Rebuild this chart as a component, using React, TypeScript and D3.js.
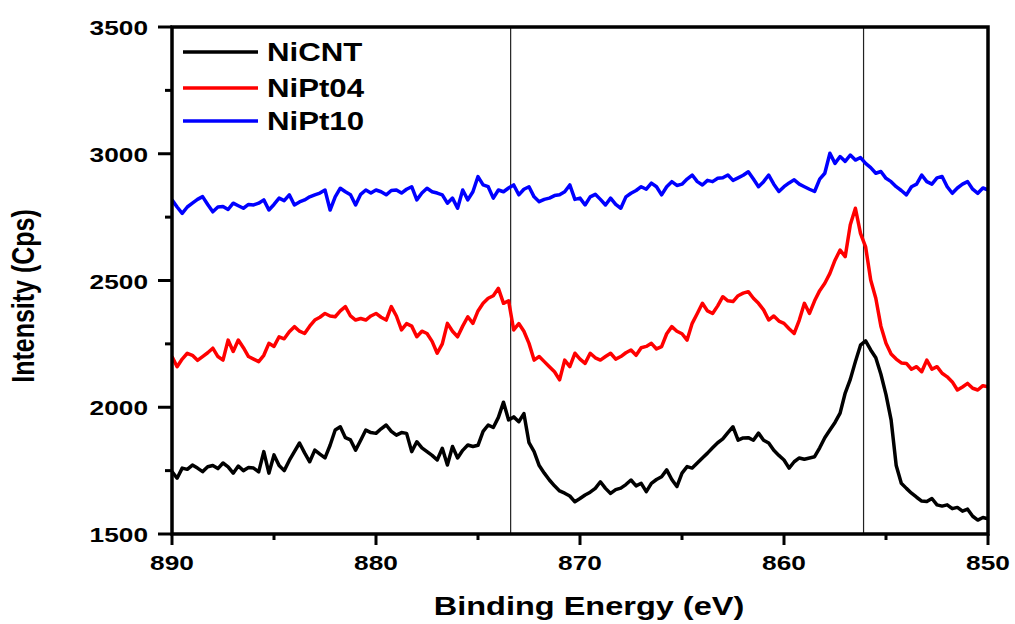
import React from "react";
import * as d3 from "d3";

// Binding energy grid (eV), 0.25 eV steps from 890 down to 850
const energies: number[] = d3.range(161).map((i) => 890 - i * 0.25);

const niCNT: number[] = [
  1746, 1720, 1760, 1755,
  1772, 1760, 1746, 1765,
  1770, 1758, 1780, 1765,
  1740, 1768, 1750, 1762,
  1760, 1745, 1825, 1740,
  1812, 1770, 1750, 1790,
  1825, 1859, 1820, 1785,
  1831, 1815, 1800, 1850,
  1910, 1923, 1880, 1871,
  1831, 1870, 1910, 1900,
  1897, 1915, 1930, 1905,
  1890, 1900, 1897, 1825,
  1864, 1840, 1825, 1810,
  1792, 1838, 1772, 1845,
  1800, 1830, 1851, 1845,
  1850, 1905, 1930, 1920,
  1960, 2020, 1950, 1962,
  1943, 1975, 1860, 1825,
  1770, 1740, 1713, 1690,
  1670, 1661, 1650, 1627,
  1640, 1654, 1665, 1680,
  1706, 1680, 1660, 1675,
  1681, 1695, 1713, 1690,
  1700, 1667, 1700, 1715,
  1726, 1753, 1715, 1687,
  1740, 1766, 1760, 1780,
  1800, 1819, 1840, 1860,
  1875, 1900, 1923, 1870,
  1879, 1880, 1870, 1898,
  1870, 1859, 1830, 1810,
  1792, 1760, 1785, 1800,
  1795, 1800, 1805, 1840,
  1880, 1910, 1940, 1977,
  2056, 2110, 2180, 2245,
  2262, 2226, 2195, 2130,
  2050, 1950, 1770, 1700,
  1680, 1661, 1645, 1630,
  1628, 1640, 1615, 1610,
  1615, 1600, 1605, 1590,
  1598, 1570, 1555, 1565,
  1560,
];

const niPt04: number[] = [
  2200, 2160, 2190, 2213,
  2205, 2185, 2200, 2215,
  2233, 2200, 2186, 2265,
  2220, 2265, 2235, 2200,
  2190, 2180, 2205, 2252,
  2240, 2278, 2270, 2298,
  2318, 2300, 2291, 2320,
  2344, 2355, 2370, 2360,
  2357, 2380, 2397, 2360,
  2344, 2350, 2344, 2360,
  2370, 2355, 2344, 2397,
  2360, 2305, 2330, 2320,
  2278, 2300, 2291, 2260,
  2213, 2250, 2331, 2300,
  2278, 2320, 2357, 2331,
  2380, 2410, 2430, 2440,
  2469, 2410, 2420, 2305,
  2330, 2300, 2252, 2186,
  2200, 2180, 2160, 2140,
  2108, 2186, 2160, 2213,
  2190, 2173, 2213, 2195,
  2186, 2200, 2213, 2190,
  2200, 2215, 2226, 2205,
  2235, 2240, 2252, 2230,
  2239, 2290, 2318, 2300,
  2290, 2265, 2331, 2370,
  2410, 2380, 2370, 2400,
  2436, 2420, 2417, 2440,
  2450, 2456, 2430, 2410,
  2384, 2344, 2360, 2340,
  2331, 2310, 2291, 2344,
  2410, 2370, 2420, 2460,
  2489, 2528, 2580, 2620,
  2594, 2720, 2785, 2686,
  2633, 2502, 2430, 2320,
  2252, 2210, 2190, 2175,
  2173, 2150, 2160, 2140,
  2186, 2150, 2160, 2134,
  2120, 2100, 2068, 2080,
  2094, 2075, 2068, 2085,
  2081,
];

const niPt10: number[] = [
  2818, 2790, 2765, 2790,
  2805, 2820, 2831, 2800,
  2771, 2790, 2792, 2780,
  2805, 2795, 2785, 2800,
  2798, 2805, 2818, 2778,
  2800, 2825, 2815, 2838,
  2798, 2810, 2818, 2830,
  2838, 2845, 2857, 2778,
  2830, 2864, 2850, 2838,
  2798, 2840, 2857, 2845,
  2857, 2850, 2838, 2855,
  2857, 2845, 2860, 2870,
  2818, 2845, 2864, 2850,
  2845, 2838, 2805, 2825,
  2785, 2857, 2818, 2850,
  2910, 2877, 2870, 2825,
  2857, 2850, 2865, 2877,
  2838, 2860, 2870, 2830,
  2811, 2820, 2825, 2835,
  2838, 2850, 2877, 2820,
  2825, 2798, 2830, 2840,
  2820, 2798, 2825, 2800,
  2785, 2830, 2844, 2855,
  2870, 2860, 2884, 2870,
  2838, 2870, 2890, 2875,
  2880, 2900, 2916, 2890,
  2877, 2895, 2890, 2903,
  2905, 2916, 2895, 2905,
  2915, 2929, 2900, 2870,
  2890, 2916, 2880, 2851,
  2870, 2885, 2897, 2880,
  2870, 2860, 2851, 2900,
  2923, 3002, 2962, 2989,
  2970, 2995, 2975, 2985,
  2962, 2945, 2923, 2930,
  2903, 2890, 2870, 2855,
  2838, 2870, 2880, 2916,
  2890, 2880, 2905, 2910,
  2870, 2844, 2865, 2880,
  2890, 2860, 2844, 2865,
  2857,
];

const seriesNames: string[] = ["NiCNT", "NiPt04", "NiPt10"];
const seriesColors: string[] = ["#000000", "#ff0000", "#0000ff"];
const seriesValues: number[][] = [niCNT, niPt04, niPt10];

const xTicks: number[] = [890, 880, 870, 860, 850];
const xMinorTicks: number[] = [885, 875, 865, 855];
const yTicks: number[] = [1500, 2000, 2500, 3000, 3500];
const yMinorTicks: number[] = [1750, 2250, 2750, 3250];
const refLines: number[] = [873.4, 856.1];

const W = 1015;
const H = 624;
const M = { left: 172, right: 988, top: 27, bottom: 534 };
const SX = 1.25;
const FONT = "Arial, 'Liberation Sans', Helvetica, sans-serif";

function SText(props: {
  x: number;
  y: number;
  size: number;
  anchor?: string;
  sx?: number;
  rotate?: number;
  children: React.ReactNode;
}) {
  const { x, y, size, anchor = "start", sx = SX, rotate = 0, children } = props;
  const t = rotate
    ? `translate(${x},${y}) rotate(${rotate}) scale(1,${sx})`
    : `translate(${x},${y}) scale(${sx},1)`;
  return (
    <text
      transform={t}
      fontFamily={FONT}
      fontWeight="bold"
      fontSize={size}
      textAnchor={anchor}
      fill="#000"
    >
      {children}
    </text>
  );
}

export default function App() {
  const x = d3.scaleLinear().domain([890, 850]).range([M.left, M.right]);
  const y = d3.scaleLinear().domain([1500, 3500]).range([M.bottom, M.top]);

  const line = d3
    .line<number>()
    .x((_, i) => x(energies[i]))
    .y((d) => y(d));

  const axisW = 3.5;

  return (
    <svg
      width={W}
      height={H}
      style={{ position: "absolute", left: 0, top: 0, background: "#fff" }}
    >
      <rect x={0} y={0} width={W} height={H} fill="#fff" />
      <defs>
        <clipPath id="plotclip">
          <rect x={M.left} y={M.top} width={M.right - M.left} height={M.bottom - M.top} />
        </clipPath>
      </defs>

      {/* reference lines */}
      {refLines.map((e) => (
        <line
          key={e}
          x1={x(e)}
          x2={x(e)}
          y1={M.top}
          y2={M.bottom}
          stroke="#222"
          strokeWidth={1.2}
        />
      ))}

      {/* data */}
      <g clipPath="url(#plotclip)">
        {seriesValues.map((vals, k) => (
          <path
            key={seriesNames[k]}
            d={line(vals) || ""}
            fill="none"
            stroke={seriesColors[k]}
            strokeWidth={3.5}
            strokeLinejoin="round"
          />
        ))}
      </g>

      {/* frame */}
      <rect
        x={M.left}
        y={M.top}
        width={M.right - M.left}
        height={M.bottom - M.top}
        fill="none"
        stroke="#000"
        strokeWidth={axisW}
      />

      {/* y ticks */}
      {yTicks.map((t) => (
        <g key={"yt" + t}>
          <line x1={M.left - 14} x2={M.left} y1={y(t)} y2={y(t)} stroke="#000" strokeWidth={3} />
          <SText x={148} y={y(t) + 8} size={21} anchor="end">
            {t}
          </SText>
        </g>
      ))}
      {yMinorTicks.map((t) => (
        <line key={"ym" + t} x1={M.left - 7} x2={M.left} y1={y(t)} y2={y(t)} stroke="#000" strokeWidth={3} />
      ))}

      {/* x ticks */}
      {xTicks.map((t) => (
        <g key={"xt" + t}>
          <line x1={x(t)} x2={x(t)} y1={M.bottom} y2={M.bottom + 11} stroke="#000" strokeWidth={3} />
          <SText x={x(t)} y={570} size={21} anchor="middle">
            {t}
          </SText>
        </g>
      ))}
      {xMinorTicks.map((t) => (
        <line key={"xm" + t} x1={x(t)} x2={x(t)} y1={M.bottom} y2={M.bottom + 6} stroke="#000" strokeWidth={3} />
      ))}

      {/* axis titles */}
      <SText x={589} y={615} size={25} anchor="middle" sx={1.3}>
        Binding Energy (eV)
      </SText>
      <SText x={34} y={296} size={25} anchor="middle" rotate={-90}>
        Intensity (Cps)
      </SText>

      {/* legend */}
      {seriesNames.map((name, k) => {
        const ly = [52, 88, 121][k];
        return (
          <g key={"lg" + name}>
            <line x1={183} x2={258} y1={ly} y2={ly} stroke={seriesColors[k]} strokeWidth={3.5} />
            <SText x={267} y={ly + 9} size={26} sx={1.2}>
              {name}
            </SText>
          </g>
        );
      })}
    </svg>
  );
}
